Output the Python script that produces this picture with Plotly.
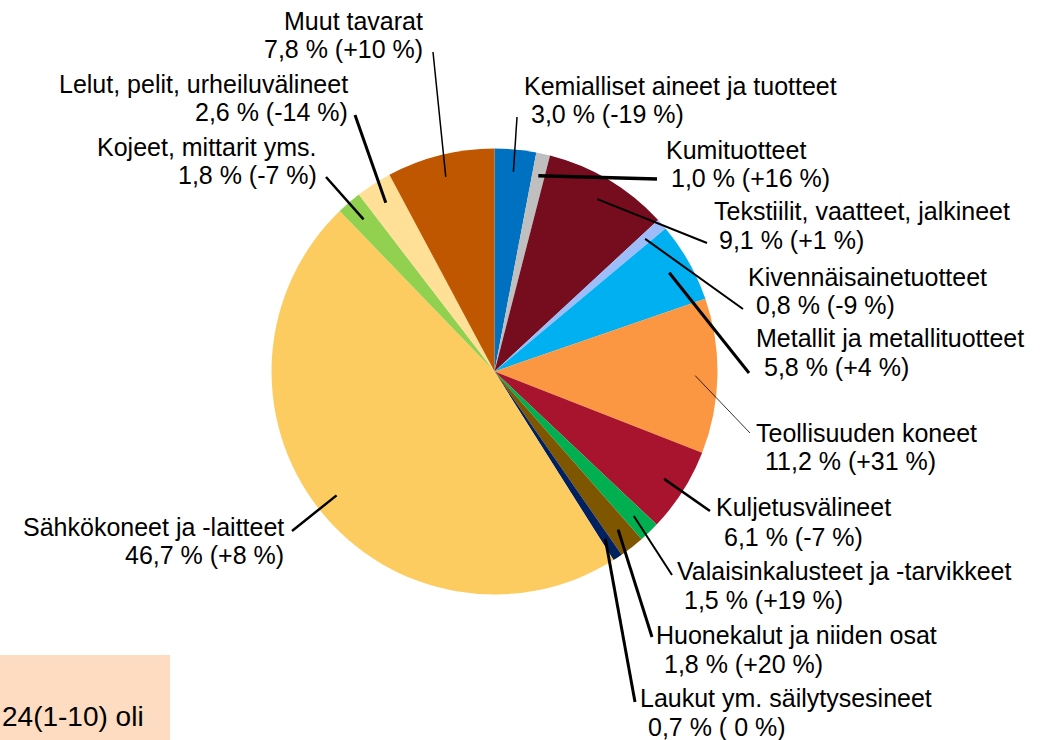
"""
Tuonti tavararyhmittäin - piirakkakaavio
"""
import math
import plotly.graph_objects as go

W, H = 1045, 740

# slices clockwise from 12 o'clock
names = [
    'Kemialliset aineet ja tuotteet',
    'Kumituotteet',
    'Tekstiilit, vaatteet, jalkineet',
    'Kivennäisainetuotteet',
    'Metallit ja metallituotteet',
    'Teollisuuden koneet',
    'Kuljetusvälineet',
    'Valaisinkalusteet ja -tarvikkeet',
    'Huonekalut ja niiden osat',
    'Laukut ym. säilytysesineet',
    'Sähkökoneet ja -laitteet',
    'Kojeet, mittarit yms.',
    'Lelut, pelit, urheiluvälineet',
    'Muut tavarat',
]
shares = [3.0, 1.0, 9.1, 0.8, 5.8, 11.2, 6.1, 1.5, 1.8, 0.7, 46.7, 1.8, 2.6, 7.8]
changes = [-19, 16, 1, -9, 4, 31, -7, 19, 20, 0, 8, -7, -14, 10]
colors = [
    '#0070C0', '#BFBFBF', '#750D1E', '#9DBDFA', '#00B0F0', '#FB9742', '#A8142D',
    '#00B050', '#7E5600', '#002060', '#FDCC60', '#92D050', '#FFE096', '#BF5600',
]

# label layout: anchor side, x line1, x line2, y line1, y line2, leader outer end, leader width
label_pos = [
    ('left', 523, 530, 86, 114, (517, 117), 1.5),
    ('left', 665, 670, 150, 178, (657, 179), 3.5),
    ('left', 713, 718, 211, 240, (707, 243), 2),
    ('left', 747, 755, 277, 305, (743, 309), 2),
    ('left', 755, 763, 338, 367, (749, 373), 3),
    ('left', 755, 764, 433, 461, (750, 433), 0.8),
    ('left', 715, 723, 507, 537, (710, 511), 2.5),
    ('left', 676, 683, 571, 600, (672, 575), 2),
    ('left', 655, 663, 635, 664, (652, 637), 3),
    ('left', 639, 647, 698, 727, (635, 702), 3),
    ('right', 285, 285, 527, 555, (292, 531), 2.5),
    ('right', 318, 318, 147, 175, (326, 177), 2.5),
    ('right', 349, 349, 84, 112, (355, 115), 3),
    ('right', 424, 424, 21, 49, (433, 52), 1.5),
]

CX, CY, R = 494.5, 371.5, 223
FONT = 'Liberation Sans, Arial, sans-serif'


def px(x):
    return x / W


def py(y):
    return 1 - y / H


def fmt_label(share, change):
    s = f'{share:.1f}'.replace('.', ',')
    c = ' 0' if change == 0 else f'{change:+d}'
    return f'{s} % ({c} %)'


fig = go.Figure()

fig.add_trace(go.Pie(
    labels=names,
    values=shares,
    sort=False,
    direction='clockwise',
    rotation=0,
    marker=dict(colors=colors, line=dict(width=0)),
    textinfo='none',
    showlegend=False,
    domain=dict(x=[px(CX - R), px(CX + R)], y=[py(CY + R), py(CY - R)]),
    hovertemplate='<b>%{label}</b><br>%{value:.1f} %<extra></extra>',
))

shapes = [dict(
    type='rect', xref='paper', yref='paper',
    x0=0, x1=px(170), y0=0, y1=py(655),
    fillcolor='#FDDCC2', line=dict(width=0), layer='below',
)]
annotations = [dict(
    x=0, y=py(716), xref='paper', yref='paper', xanchor='left', yanchor='middle',
    text='24(1-10) oli', showarrow=False, font=dict(family=FONT, size=28, color='black'),
)]

total = sum(shares)
cum = 0
for name, share, change, pos in zip(names, shares, changes, label_pos):
    side, x1, x2, y1, y2, (ox, oy), lw = pos
    mid = (cum + share / 2) / total * 2 * math.pi
    cum += share
    ix = CX + 0.9 * R * math.sin(mid)
    iy = CY - 0.9 * R * math.cos(mid)
    shapes.append(dict(
        type='line', xref='paper', yref='paper',
        x0=px(ox), y0=py(oy), x1=px(ix), y1=py(iy),
        line=dict(color='black', width=lw),
    ))
    for xx, yy, txt in [(x1, y1, name), (x2, y2, fmt_label(share, change))]:
        annotations.append(dict(
            x=px(xx), y=py(yy), xref='paper', yref='paper',
            xanchor=side, yanchor='middle', text=txt, showarrow=False,
            borderpad=0, font=dict(family=FONT, size=25, color='black'),
        ))

fig.update_layout(
    width=W, height=H,
    margin=dict(l=0, r=0, t=0, b=0),
    paper_bgcolor='white',
    plot_bgcolor='white',
    shapes=shapes,
    annotations=annotations,
)

fig.write_html('out.html', config={'displayModeBar': False},
               post_script="document.body.style.margin='0';")
